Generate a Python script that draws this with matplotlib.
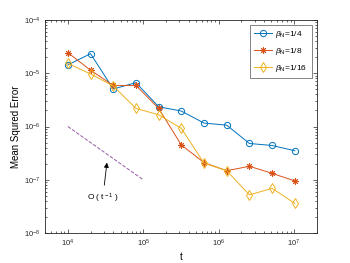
import numpy as np
import matplotlib
matplotlib.use('Agg')
import matplotlib.pyplot as plt

plt.rcParams['font.family'] = ['Liberation Sans', 'DejaVu Sans']
plt.rcParams['mathtext.fontset'] = 'custom'
plt.rcParams['mathtext.it'] = 'Liberation Sans:italic'
plt.rcParams['mathtext.rm'] = 'Liberation Sans'

# Data
t = [1e4, 2e4, 4e4, 8e4, 1.6e5, 3.2e5, 6.4e5, 1.28e6, 2.56e6, 5.12e6, 1.024e7]
mse_quarter = [1.43e-5, 2.33e-5, 5.06e-6, 6.66e-6, 2.35e-6, 1.95e-6, 1.16e-6, 1.06e-6, 4.8e-7, 4.4e-7, 3.5e-7]
mse_eighth = [2.44e-5, 1.14e-5, 5.9e-6, 5.9e-6, 2.19e-6, 4.5e-7, 2.1e-7, 1.48e-7, 1.79e-7, 1.32e-7, 9.5e-8]
mse_sixteenth = [1.53e-5, 9.7e-6, 5.77e-6, 2.19e-6, 1.66e-6, 9.2e-7, 2.05e-7, 1.48e-7, 5.2e-8, 6.9e-8, 3.6e-8]
ref_t = [1e4, 1e5]
ref_mse = [1e-6, 1e-7]

fig = plt.figure(figsize=(3.5, 2.63), dpi=100)
ax = fig.add_axes([0.129, 0.114, 0.776, 0.81])

ax.loglog(t, mse_quarter, '-o', color='#0072BD', lw=0.7, ms=4.5, mfc='none', mew=0.7, label=r'$\beta_{\rm N}$=1/4')
ax.loglog(t, mse_eighth, '-', marker=(8, 2, 0), color='#D95319', lw=0.7, ms=4.5, mew=0.7, label=r'$\beta_{\rm N}$=1/8')
ax.loglog(t, mse_sixteenth, '-d', color='#EDB120', lw=0.7, ms=5, mfc='none', mew=0.7, label=r'$\beta_{\rm N}$=1/16')
ax.loglog(ref_t, ref_mse, '--', color='#7E2F8E', lw=0.7, alpha=0.8)

ax.annotate(r'O ( t$^{\rm -1}$ )', xy=(3.3e4, 2.1e-7), xytext=(2.9e4, 4.4e-8),
            ha='center', va='center', fontsize=6,
            arrowprops=dict(arrowstyle='-|>', color='black', lw=0.6, mutation_scale=7, shrinkA=3, shrinkB=0))

ax.set_xlim(5e3, 2e7)
ax.set_ylim(1e-8, 1e-4)
ax.set_xlabel('t', fontsize=7, labelpad=2)
ax.set_ylabel('Mean Squred Error', fontsize=7, labelpad=2)
ax.tick_params(which='both', direction='in', top=True, right=True, labelsize=5.5, width=0.5, colors='#262626')
ax.tick_params(which='major', length=3)
ax.tick_params(which='minor', length=1.5)
for s in ax.spines.values():
    s.set_linewidth(0.6)
    s.set_color('#262626')

leg = ax.legend(loc='upper right', fontsize=6, fancybox=False, edgecolor='#262626',
                borderaxespad=0.6, handlelength=2.2, handletextpad=0.4, labelspacing=0.7, borderpad=0.5)
leg.get_frame().set_linewidth(0.5)

plt.savefig('out.png', dpi=100)
